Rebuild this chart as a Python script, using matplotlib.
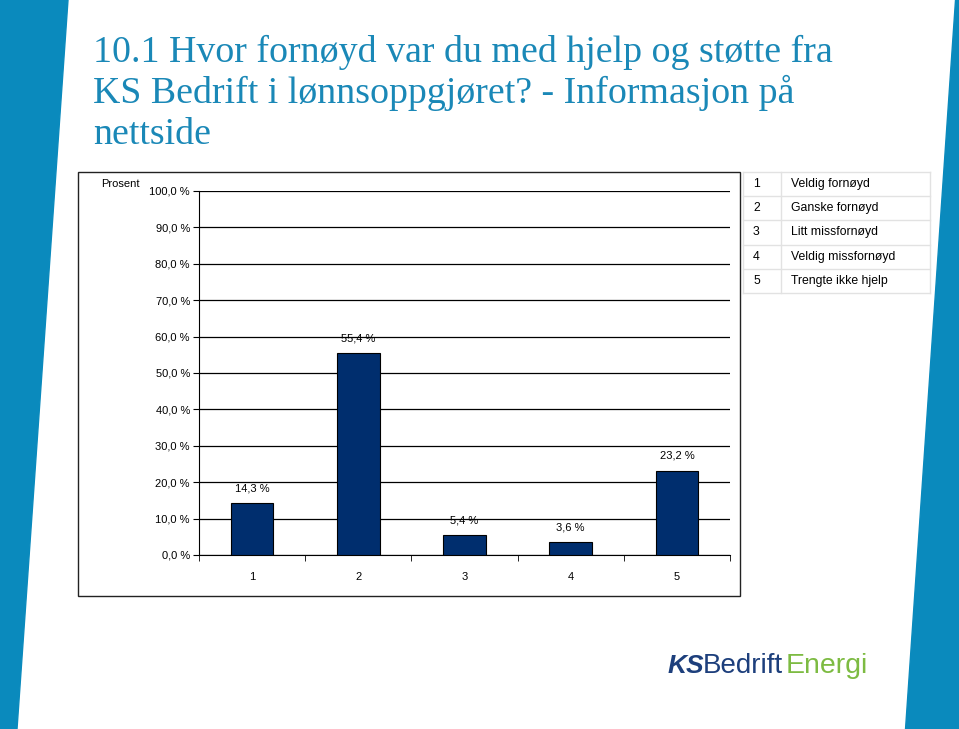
import numpy as np
import matplotlib
matplotlib.use('Agg')
import matplotlib.pyplot as plt
from matplotlib.patches import Polygon, Rectangle
from matplotlib.lines import Line2D

plt.rcParams['font.family'] = ['Liberation Sans', 'DejaVu Sans']

# data
categories = ['1', '2', '3', '4', '5']
values = [14.3, 55.4, 5.4, 3.6, 23.2]
answer_labels = ['Veldig fornøyd', 'Ganske fornøyd', 'Litt missfornøyd',
                 'Veldig missfornøyd', 'Trengte ikke hjelp']
yticks = np.arange(0, 101, 10)
title_lines = ['10.1 Hvor fornøyd var du med hjelp og støtte fra',
               'KS Bedrift i lønnsoppgjøret? - Informasjon på',
               'nettside']

W, H = 959, 729


def fx(x):
    return x / W


def fy(y):
    return 1 - y / H


def pct(v):
    return f'{v:.1f} %'.replace('.', ',')


fig = plt.figure(figsize=(W / 100, H / 100), dpi=100)

# slide background bands
band = '#0a8abd'
fig.patches.append(Polygon([(0, 1), (fx(68), 1), (fx(17), 0), (0, 0)], closed=True,
                           transform=fig.transFigure, color=band, zorder=0))
fig.patches.append(Polygon([(fx(955), 1), (1, 1), (1, 0), (fx(905), 0)], closed=True,
                           transform=fig.transFigure, color=band, zorder=0))

# title
for i, line in enumerate(title_lines):
    fig.text(fx(93), fy(62 + 41 * i), line, family=['Liberation Serif', 'DejaVu Serif'],
             fontsize=27.3, color='#1a88b7', va='baseline', ha='left')

# chart frame
fig.patches.append(Rectangle((fx(78), fy(596)), (740 - 78) / W, (596 - 172) / H,
                             fill=False, ec='#222222', lw=1, transform=fig.transFigure))

ax = fig.add_axes([fx(199), fy(555), (730 - 199) / W, (555 - 191) / H])
x = np.arange(len(categories))
ax.bar(x, values, width=0.4, color='#002e6e', edgecolor='black', lw=0.8, zorder=3)
ax.set_xlim(-0.5, len(categories) - 0.5)
ax.set_ylim(0, 100)
ax.set_yticks(yticks)
ax.set_yticklabels([pct(v) for v in yticks])
ax.yaxis.grid(True, color='black', lw=0.9)
ax.set_axisbelow(True)
ax.spines['top'].set_visible(False)
ax.spines['right'].set_visible(False)
ax.set_xticks(x)
ax.set_xticklabels(categories)
ax.set_xticks(np.arange(-0.5, len(categories), 1), minor=True)
ax.tick_params(axis='x', which='major', length=0, pad=12, labelsize=8)
ax.tick_params(axis='x', which='minor', length=4.5, direction='out')
ax.tick_params(axis='y', length=4.5, pad=2, labelsize=8)

for xi, v in zip(x, values):
    ax.annotate(pct(v), (xi, v), xytext=(0, 7), textcoords='offset points',
                ha='center', va='bottom', fontsize=8)

fig.text(fx(101), fy(184), 'Prosent', fontsize=8, va='center', ha='left')

# legend table
row_h = 24.2
top = 172
for i, (c, lab) in enumerate(zip(categories, answer_labels)):
    yc = top + row_h * (i + 0.5)
    fig.text(fx(753), fy(yc), c, fontsize=8.8, va='center', ha='left')
    fig.text(fx(791), fy(yc), lab, fontsize=8.8, va='center', ha='left')
for k in range(len(categories) + 1):
    yl = fy(top + row_h * k)
    fig.lines.append(Line2D([fx(743), fx(930)], [yl, yl], color='#e2e2e2', lw=1,
                            transform=fig.transFigure))
for xl in (743, 781, 930):
    fig.lines.append(Line2D([fx(xl), fx(xl)], [fy(top), fy(top + row_h * 5)],
                            color='#e2e2e2', lw=1, transform=fig.transFigure))

# logo
fig.text(fx(668), fy(673), 'KS', style='italic', weight='bold', fontsize=19,
         color='#1d3f7c', va='baseline')
fig.text(fx(703), fy(673), 'Bedrift', fontsize=20, color='#1d3f7c', va='baseline')
fig.text(fx(786), fy(673), 'Energi', fontsize=20.5, color='#7dbb42', va='baseline')

fig.savefig('out.png', dpi=100)
